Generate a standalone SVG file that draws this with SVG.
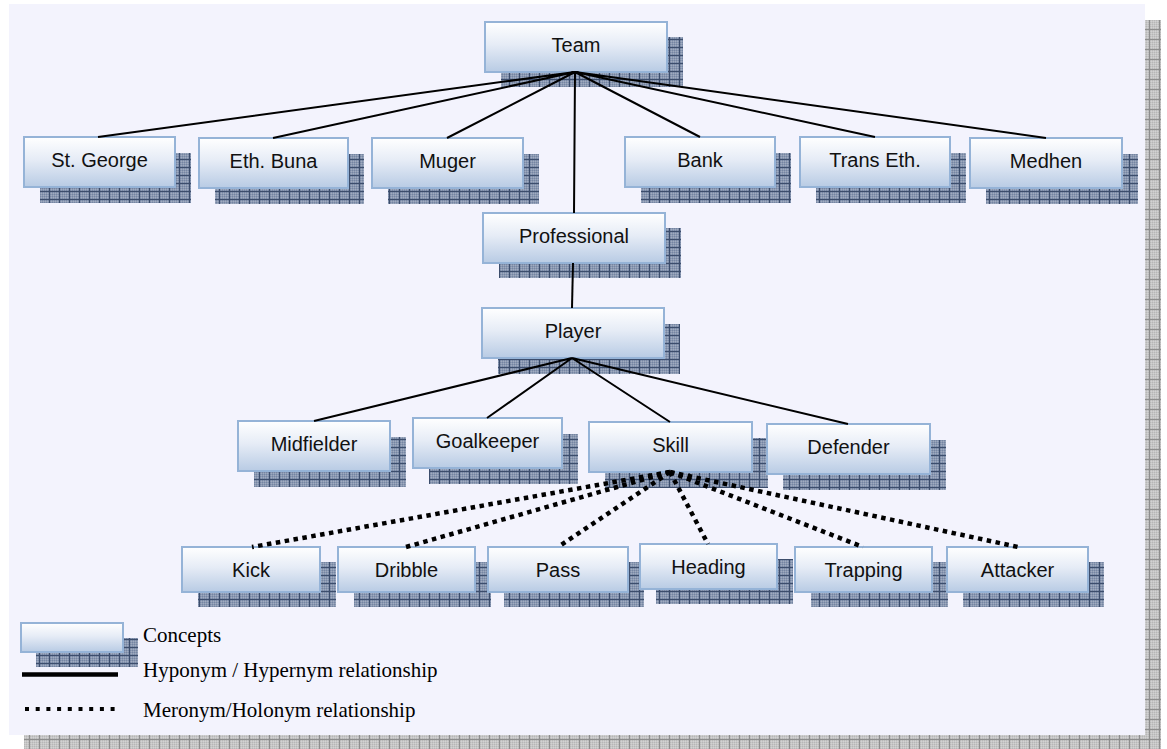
<svg xmlns="http://www.w3.org/2000/svg" width="1167" height="749" viewBox="0 0 1167 749">
  <style>
    .box { fill: url(#boxFill); stroke: #95b3d7; stroke-width: 2; }
    .shadow { fill: url(#nodeDither); }
    .shadow-grid { fill: url(#nodeGrid); }
    .label { font-family: "Liberation Sans", Arial, sans-serif; font-size: 20px; fill: #111; text-anchor: middle; }
    .legend-text { font-family: "Liberation Serif", "Times New Roman", serif; font-size: 21px; fill: #000; }
    .hyponym { stroke: #000; stroke-width: 2; fill: none; }
    .meronym { stroke: #000; stroke-width: 4.5; stroke-dasharray: 4.5 4.5; fill: none; }
  </style>
  <defs>
    <linearGradient id="boxFill" x1="0" y1="0" x2="0" y2="1">
      <stop offset="0" stop-color="#ffffff"/>
      <stop offset="0.45" stop-color="#e6ecf6"/>
      <stop offset="1" stop-color="#b8cbe4"/>
    </linearGradient>
    <!-- dithered blue-grey texture for node shadows -->
    <pattern id="nodeDither" width="2" height="2" patternUnits="userSpaceOnUse">
      <rect width="2" height="2" fill="#8a98b1"/>
      <rect width="1" height="1" fill="#7585a3"/>
      <rect x="1" y="1" width="1" height="1" fill="#a0abc0"/>
    </pattern>
    <pattern id="nodeGrid" width="10" height="8" patternUnits="userSpaceOnUse">
      <path d="M9.5 0V8M0 7.5H10" stroke="#3c4d6c" stroke-width="1" fill="none"/>
    </pattern>
    <!-- light grey texture for the page shadow -->
    <pattern id="pageDither" width="2" height="2" patternUnits="userSpaceOnUse">
      <rect width="2" height="2" fill="#c6c6c6"/>
      <rect width="1" height="1" fill="#b7b7b7"/>
      <rect x="1" y="1" width="1" height="1" fill="#d2d2d2"/>
    </pattern>
    <pattern id="pageGrid" width="10" height="10" patternUnits="userSpaceOnUse">
      <path d="M9.5 0V10M0 9.5H10" stroke="#8e8e8e" stroke-width="1" fill="none"/>
    </pattern>
  </defs>

  <rect width="1167" height="749" fill="#ffffff"/>

  <!-- page with drop shadow -->
  <g id="page">
    <rect x="24" y="20" width="1137" height="729" fill="url(#pageDither)"/>
    <rect x="24" y="20" width="1137" height="729" fill="url(#pageGrid)"/>
    <rect x="9" y="4" width="1136" height="731" fill="#f3f3fd"/>
  </g>

  <!-- concept nodes: shadow, box, label -->
  <g id="team">
    <rect class="shadow" x="501" y="37" width="182" height="50"/><rect class="shadow-grid" x="501" y="37" width="182" height="50"/>
    <rect class="box" x="485" y="22" width="182" height="50"/>
    <text class="label" x="576" y="52">Team</text>
  </g>
  <g id="st-george">
    <rect class="shadow" x="40" y="153" width="151" height="50"/><rect class="shadow-grid" x="40" y="153" width="151" height="50"/>
    <rect class="box" x="24" y="137" width="151" height="50"/>
    <text class="label" x="99.5" y="167">St. George</text>
  </g>
  <g id="eth-buna">
    <rect class="shadow" x="215" y="154" width="149" height="50"/><rect class="shadow-grid" x="215" y="154" width="149" height="50"/>
    <rect class="box" x="199" y="138" width="149" height="50"/>
    <text class="label" x="273.5" y="168">Eth. Buna</text>
  </g>
  <g id="muger">
    <rect class="shadow" x="388" y="154" width="151" height="50"/><rect class="shadow-grid" x="388" y="154" width="151" height="50"/>
    <rect class="box" x="372" y="138" width="151" height="50"/>
    <text class="label" x="447.5" y="168">Muger</text>
  </g>
  <g id="bank">
    <rect class="shadow" x="641" y="153" width="150" height="50"/><rect class="shadow-grid" x="641" y="153" width="150" height="50"/>
    <rect class="box" x="625" y="137" width="150" height="50"/>
    <text class="label" x="700" y="167">Bank</text>
  </g>
  <g id="trans-eth">
    <rect class="shadow" x="816" y="153" width="150" height="50"/><rect class="shadow-grid" x="816" y="153" width="150" height="50"/>
    <rect class="box" x="800" y="137" width="150" height="50"/>
    <text class="label" x="875" y="167">Trans Eth.</text>
  </g>
  <g id="medhen">
    <rect class="shadow" x="986" y="154" width="152" height="50"/><rect class="shadow-grid" x="986" y="154" width="152" height="50"/>
    <rect class="box" x="970" y="138" width="152" height="50"/>
    <text class="label" x="1046" y="168">Medhen</text>
  </g>
  <g id="professional">
    <rect class="shadow" x="499" y="228" width="182" height="50"/><rect class="shadow-grid" x="499" y="228" width="182" height="50"/>
    <rect class="box" x="483" y="213" width="182" height="50"/>
    <text class="label" x="574" y="243">Professional</text>
  </g>
  <g id="player">
    <rect class="shadow" x="498" y="324" width="182" height="50"/><rect class="shadow-grid" x="498" y="324" width="182" height="50"/>
    <rect class="box" x="482" y="308" width="182" height="50"/>
    <text class="label" x="573" y="338">Player</text>
  </g>
  <g id="midfielder">
    <rect class="shadow" x="254" y="437" width="152" height="50"/><rect class="shadow-grid" x="254" y="437" width="152" height="50"/>
    <rect class="box" x="238" y="421" width="152" height="50"/>
    <text class="label" x="314" y="451">Midfielder</text>
  </g>
  <g id="goalkeeper">
    <rect class="shadow" x="429" y="434" width="149" height="50"/><rect class="shadow-grid" x="429" y="434" width="149" height="50"/>
    <rect class="box" x="413" y="418" width="149" height="50"/>
    <text class="label" x="487.5" y="448">Goalkeeper</text>
  </g>
  <g id="skill">
    <rect class="shadow" x="605" y="438" width="163" height="50"/><rect class="shadow-grid" x="605" y="438" width="163" height="50"/>
    <rect class="box" x="589" y="422" width="163" height="50"/>
    <text class="label" x="670.5" y="452">Skill</text>
  </g>
  <g id="defender">
    <rect class="shadow" x="783" y="440" width="163" height="50"/><rect class="shadow-grid" x="783" y="440" width="163" height="50"/>
    <rect class="box" x="767" y="424" width="163" height="50"/>
    <text class="label" x="848.5" y="454">Defender</text>
  </g>
  <g id="kick">
    <rect class="shadow" x="198" y="562" width="138" height="45"/><rect class="shadow-grid" x="198" y="562" width="138" height="45"/>
    <rect class="box" x="182" y="547" width="138" height="45"/>
    <text class="label" x="251" y="577">Kick</text>
  </g>
  <g id="dribble">
    <rect class="shadow" x="354" y="562" width="137" height="45"/><rect class="shadow-grid" x="354" y="562" width="137" height="45"/>
    <rect class="box" x="338" y="547" width="137" height="45"/>
    <text class="label" x="406.5" y="577">Dribble</text>
  </g>
  <g id="pass">
    <rect class="shadow" x="504" y="562" width="140" height="45"/><rect class="shadow-grid" x="504" y="562" width="140" height="45"/>
    <rect class="box" x="488" y="547" width="140" height="45"/>
    <text class="label" x="558" y="577">Pass</text>
  </g>
  <g id="heading">
    <rect class="shadow" x="656" y="559" width="137" height="45"/><rect class="shadow-grid" x="656" y="559" width="137" height="45"/>
    <rect class="box" x="640" y="544" width="137" height="45"/>
    <text class="label" x="708.5" y="574">Heading</text>
  </g>
  <g id="trapping">
    <rect class="shadow" x="811" y="562" width="137" height="45"/><rect class="shadow-grid" x="811" y="562" width="137" height="45"/>
    <rect class="box" x="795" y="547" width="137" height="45"/>
    <text class="label" x="863.5" y="577">Trapping</text>
  </g>
  <g id="attacker">
    <rect class="shadow" x="963" y="562" width="141" height="45"/><rect class="shadow-grid" x="963" y="562" width="141" height="45"/>
    <rect class="box" x="947" y="547" width="141" height="45"/>
    <text class="label" x="1017.5" y="577">Attacker</text>
  </g>

  <!-- relationships -->
  <g id="connectors">
    <path class="hyponym" d="M575 72L98 137M575 72L273 138M575 72L447 138M575 72L574 213M575 72L700 137M575 72L875 137M575 72L1046 138"/>
    <path class="hyponym" d="M573 263L572 308"/>
    <path class="hyponym" d="M572 358L314 421M572 358L487 418M572 358L670 422M572 358L848 424"/>
    <path class="meronym" d="M670 472L252 547"/>
    <path class="meronym" d="M670 472L406 547"/>
    <path class="meronym" d="M670 472L558 547"/>
    <path class="meronym" d="M670 472L708 544"/>
    <path class="meronym" d="M670 472L863 547"/>
    <path class="meronym" d="M670 472L1018 547"/>
  </g>

  <!-- legend -->
  <g id="legend">
    <rect class="shadow" x="36" y="638" width="102" height="29"/><rect class="shadow-grid" x="36" y="638" width="102" height="29"/>
    <rect class="box" x="21" y="623" width="102" height="29"/>
    <text class="legend-text" x="143" y="642">Concepts</text>
    <line x1="22" y1="674.5" x2="118" y2="674.5" stroke="#000" stroke-width="4.5"/>
    <text class="legend-text" x="143" y="677">Hyponym / Hypernym relationship</text>
    <line x1="25" y1="709" x2="118" y2="709" stroke="#000" stroke-width="4" stroke-dasharray="4 6.7"/>
    <text class="legend-text" x="143" y="717">Meronym/Holonym relationship</text>
  </g>
</svg>
